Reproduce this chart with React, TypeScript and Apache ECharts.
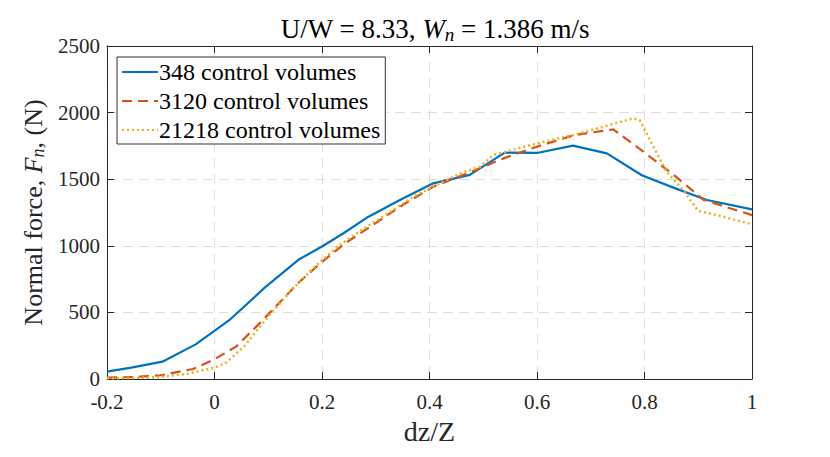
import React, { useEffect, useRef } from "react";
import * as echarts from "echarts";

const xTicks = [-0.2, 0, 0.2, 0.4, 0.6, 0.8, 1];
const yTicks = [0, 500, 1000, 1500, 2000, 2500];

const seriesNames = ["348 control volumes", "3120 control volumes", "21218 control volumes"];

const xBlue = [-0.2, -0.155, -0.097, -0.035, 0.03, 0.094, 0.156, 0.2, 0.24, 0.283, 0.345, 0.407, 0.475, 0.54, 0.6, 0.667, 0.73, 0.795, 0.855, 0.916, 1.0];
const yBlue = [55, 85, 130, 260, 450, 688, 895, 995, 1094, 1210, 1344, 1469, 1532, 1699, 1697, 1752, 1694, 1530, 1435, 1344, 1274];

const xOrange = [-0.2, -0.15, -0.1, -0.04, 0, 0.04, 0.09, 0.155, 0.2, 0.243, 0.285, 0.35, 0.407, 0.478, 0.54, 0.6, 0.67, 0.742, 0.8, 0.855, 0.91, 1.0];
const yOrange = [10, 15, 28, 75, 148, 243, 443, 718, 880, 1019, 1131, 1306, 1444, 1556, 1660, 1744, 1832, 1874, 1700, 1530, 1345, 1230];

const xYellow = [-0.2, -0.15, -0.1, -0.05, 0, 0.02, 0.055, 0.1, 0.145, 0.19, 0.233, 0.283, 0.308, 0.37, 0.413, 0.457, 0.494, 0.519, 0.6, 0.668, 0.723, 0.779, 0.791, 0.841, 0.872, 0.9, 0.934, 1.0];
const yYellow = [5, 8, 15, 40, 85, 118, 243, 470, 675, 856, 1006, 1144, 1206, 1369, 1456, 1544, 1594, 1682, 1769, 1832, 1894, 1957, 1944, 1556, 1419, 1262, 1231, 1162];

const colors = ["#0072BD", "#D95319", "#EDB120"];
const FONT = "'Liberation Serif', serif";

function pairs(xs: number[], ys: number[]) {
  return xs.map((x, i) => [x, ys[i]]);
}

export default function App() {
  const ref = useRef<HTMLDivElement>(null);
  useEffect(() => {
    if (!ref.current) return;
    const chart = echarts.init(ref.current, undefined, { renderer: "svg" });
    const axisLine = { show: true, onZero: false, lineStyle: { color: "#262626", width: 1 } };
    const tick = { show: true, inside: true, length: 7, lineStyle: { color: "#262626", width: 1 } };
    const split = { show: true, lineStyle: { color: "#dedede", width: 1, type: [10, 6] as any } };
    const dataSets = [pairs(xBlue, yBlue), pairs(xOrange, yOrange), pairs(xYellow, yYellow)];
    const dashes: any[] = ["solid", [10, 6], [2, 3]];
    chart.setOption({
      animation: false,
      backgroundColor: "#ffffff",
      title: {
        text: "U/W = 8.33, {i|W}{s|n} = 1.386 m/s",
        left: 430,
        textAlign: "center",
        top: 9,
        textStyle: {
          fontFamily: FONT,
          fontSize: 27,
          fontWeight: "normal",
          color: "#000",
          rich: {
            i: { fontFamily: FONT, fontSize: 27, fontStyle: "italic", color: "#000" },
            s: { fontFamily: FONT, fontSize: 19, fontStyle: "italic", color: "#000", padding: [11, 0, 0, 0] },
          },
        },
      },
      legend: {
        orient: "vertical",
        left: 117,
        top: 57,
        backgroundColor: "#fff",
        borderColor: "#333",
        borderWidth: 1,
        borderRadius: 0,
        padding: [3, 5, 2, 4],
        itemWidth: 36,
        itemHeight: 14,
        itemGap: 5,
        itemStyle: { opacity: 0 },
        textStyle: { fontFamily: FONT, fontSize: 24, color: "#000", padding: [0, 0, 0, -4] },
        data: seriesNames,
      },
      grid: { left: 107, right: 78, top: 46, bottom: 78, containLabel: false },
      xAxis: [
        {
          type: "value",
          min: xTicks[0],
          max: xTicks[xTicks.length - 1],
          interval: 0.2,
          position: "bottom",
          axisLine,
          axisTick: tick,
          splitLine: split,
          axisLabel: {
            fontFamily: FONT,
            fontSize: 21,
            lineHeight: 16,
            color: "#262626",
            margin: 15,
            formatter: (v: number) => String(Number(v.toFixed(1))),
          },
          name: "dz/Z",
          nameLocation: "middle",
          nameGap: 38,
          nameTextStyle: { fontFamily: FONT, fontSize: 28, color: "#262626" },
        },
        {
          type: "value",
          min: xTicks[0],
          max: xTicks[xTicks.length - 1],
          interval: 0.2,
          position: "top",
          axisLine,
          axisTick: tick,
          splitLine: { show: false },
          axisLabel: { show: false },
        },
      ],
      yAxis: [
        {
          type: "value",
          min: yTicks[0],
          max: yTicks[yTicks.length - 1],
          interval: 500,
          position: "left",
          axisLine,
          axisTick: tick,
          splitLine: split,
          axisLabel: {
            fontFamily: FONT,
            fontSize: 21,
            lineHeight: 16,
            color: "#262626",
            margin: 7,
            formatter: (v: number) => String(v),
          },
          name: "Normal force, {i|F}{s|n}, (N)",
          nameLocation: "middle",
          nameRotate: 90,
          nameGap: 60,
          nameTextStyle: {
            fontFamily: FONT,
            fontSize: 26,
            color: "#262626",
            rich: {
              i: { fontFamily: FONT, fontSize: 26, fontStyle: "italic", color: "#262626" },
              s: { fontFamily: FONT, fontSize: 18, fontStyle: "italic", color: "#262626", padding: [10, 0, 0, 0] },
            },
          },
        },
        {
          type: "value",
          min: yTicks[0],
          max: yTicks[yTicks.length - 1],
          interval: 500,
          position: "right",
          axisLine,
          axisTick: tick,
          splitLine: { show: false },
          axisLabel: { show: false },
        },
      ],
      series: seriesNames.map((name, i) => ({
        name,
        type: "line",
        xAxisIndex: 0,
        yAxisIndex: 0,
        data: dataSets[i],
        symbol: "none",
        showSymbol: false,
        color: colors[i],
        lineStyle: { color: colors[i], width: i === 2 ? 2.5 : 2.2, type: dashes[i] },
        z: 3 + i,
      })),
    });
    return () => chart.dispose();
  }, []);
  return <div ref={ref} style={{ position: "fixed", left: 0, top: 0, width: 830, height: 457 }} />;
}
